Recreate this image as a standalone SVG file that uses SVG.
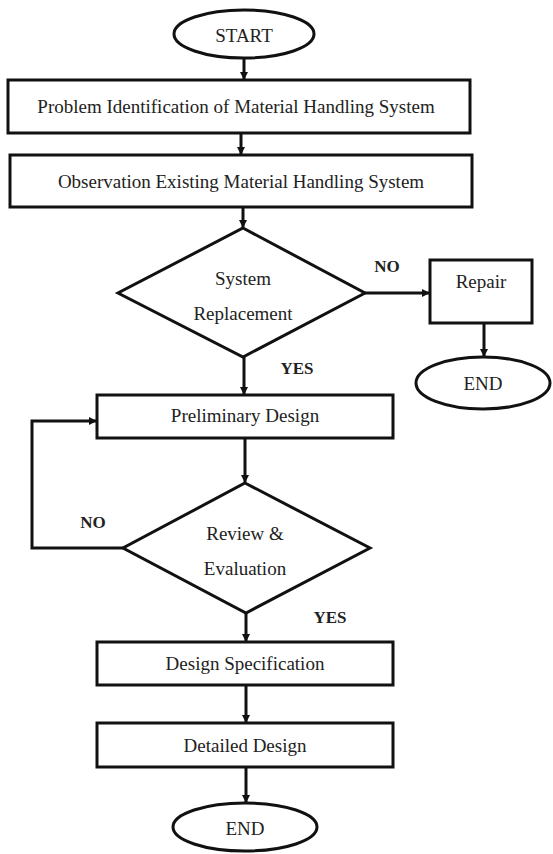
<svg xmlns="http://www.w3.org/2000/svg" width="553" height="854" viewBox="0 0 553 854">
<style>
.s{fill:#fff;stroke:#111;stroke-width:3}
.c{fill:none;stroke:#111;stroke-width:3}
text{font-family:'Liberation Serif','DejaVu Serif',serif;font-size:19px;fill:#222;text-anchor:middle;dominant-baseline:central}
.b{font-weight:bold;font-size:17px}
</style>
<defs>
<marker id="a" markerWidth="8" markerHeight="8" refX="7" refY="4" orient="auto" markerUnits="userSpaceOnUse">
<path d="M0,0 L8,4 L0,8 Z" fill="#111"/>
</marker>
</defs>
<rect width="553" height="854" fill="#fff"/>
<g id="connectors">
<line class="c" x1="244" y1="58" x2="244" y2="79" marker-end="url(#a)"/>
<line class="c" x1="241" y1="133" x2="241" y2="154" marker-end="url(#a)"/>
<line class="c" x1="243" y1="207" x2="243" y2="227" marker-end="url(#a)"/>
<line class="c" x1="365" y1="293" x2="429" y2="293" marker-end="url(#a)"/>
<line class="c" x1="484" y1="323" x2="484" y2="356" marker-end="url(#a)"/>
<line class="c" x1="244" y1="357" x2="244" y2="394" marker-end="url(#a)"/>
<line class="c" x1="245" y1="438" x2="245" y2="482" marker-end="url(#a)"/>
<polyline class="c" points="123,548 32,548 32,421 96,421" marker-end="url(#a)"/>
<line class="c" x1="246" y1="613" x2="246" y2="641" marker-end="url(#a)"/>
<line class="c" x1="246" y1="686" x2="246" y2="722" marker-end="url(#a)"/>
<line class="c" x1="246" y1="767" x2="246" y2="802" marker-end="url(#a)"/>
<text class="b" x="387" y="266">NO</text>
<text class="b" x="297" y="368">YES</text>
<text class="b" x="93" y="522">NO</text>
<text class="b" x="330" y="617">YES</text>
</g>
<g id="start"><ellipse class="s" cx="244" cy="34" rx="70" ry="24"/><text x="244" y="35">START</text></g>
<g id="problem"><rect class="s" x="8" y="80" width="462" height="53"/><text x="236" y="106">Problem Identification of Material Handling System</text></g>
<g id="observation"><rect class="s" x="10" y="155" width="462" height="52"/><text x="241" y="181">Observation Existing Material Handling System</text></g>
<g id="replacement"><polygon class="s" points="243,228 365,293 243,357 118,293"/><text x="243" y="278">System</text><text x="243" y="313">Replacement</text></g>
<g id="repair"><rect class="s" x="430" y="260" width="102" height="63"/><text x="481" y="281">Repair</text></g>
<g id="end1"><ellipse class="s" cx="483" cy="383" rx="67" ry="26"/><text x="483" y="383">END</text></g>
<g id="preliminary"><rect class="s" x="97" y="395" width="296" height="43"/><text x="245" y="415">Preliminary Design</text></g>
<g id="review"><polygon class="s" points="245,483 370,548 246,613 123,548"/><text x="245" y="533">Review &amp;</text><text x="245" y="568">Evaluation</text></g>
<g id="spec"><rect class="s" x="97" y="642" width="296" height="43"/><text x="245" y="663">Design Specification</text></g>
<g id="detailed"><rect class="s" x="97" y="723" width="296" height="44"/><text x="245" y="745">Detailed Design</text></g>
<g id="end2"><ellipse class="s" cx="245" cy="827" rx="72" ry="24"/><text x="245" y="828">END</text></g>
</svg>
